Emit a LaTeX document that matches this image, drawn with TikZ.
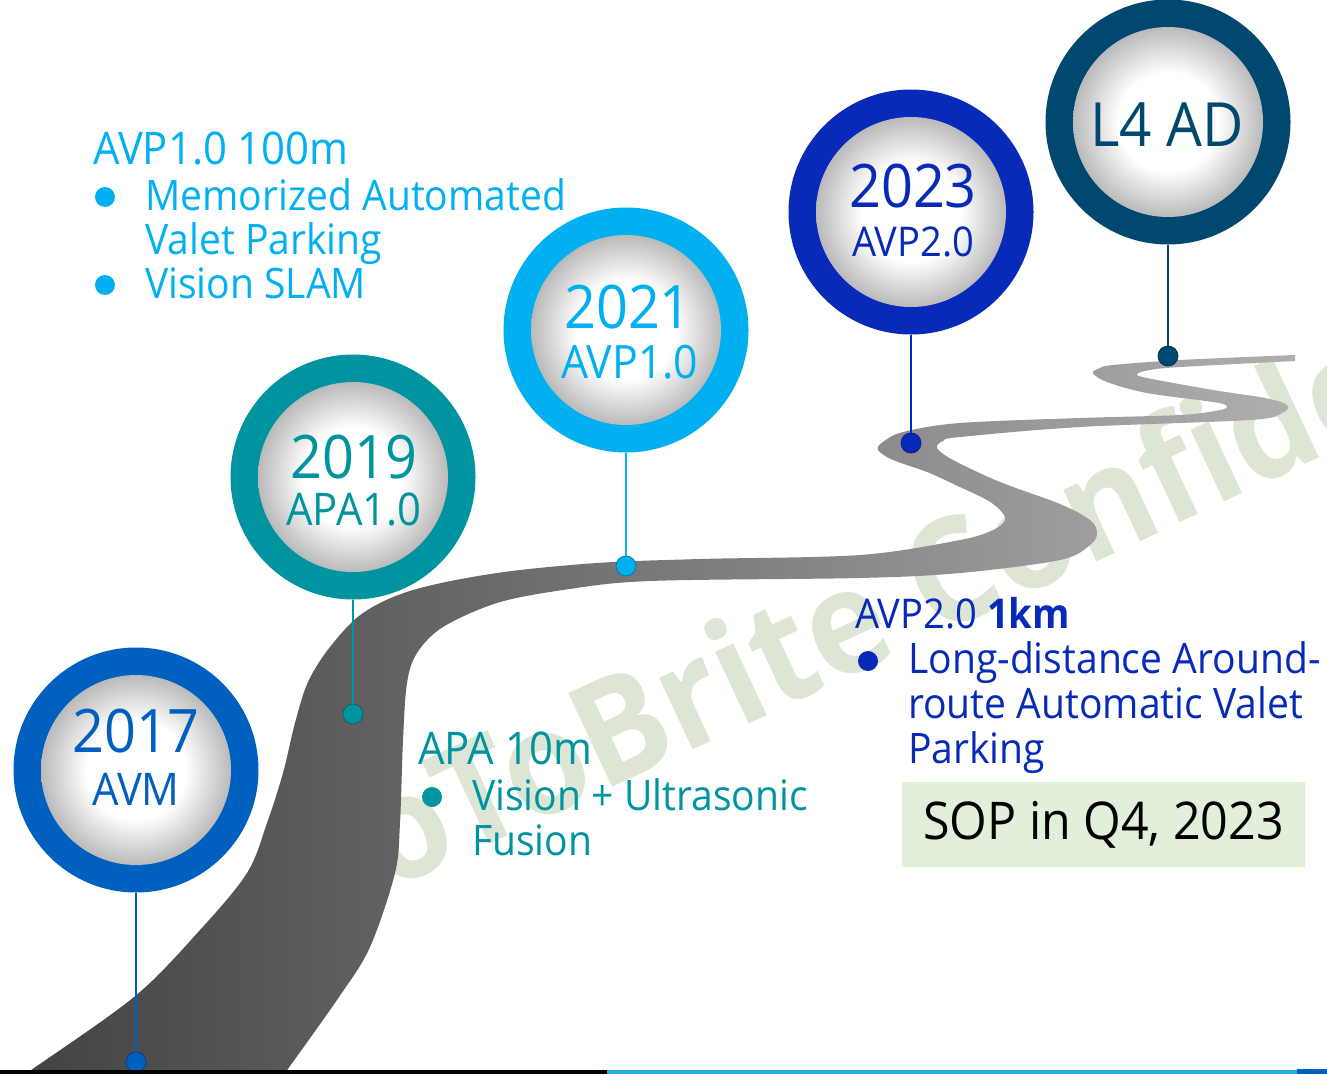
\documentclass[tikz,border=0pt]{standalone}
\usepackage{fontspec}
\setmainfont{Open Sans}[FakeStretch=0.93]
\definecolor{c17}{RGB}{0,96,192}
\definecolor{c19}{RGB}{0,148,160}
\definecolor{c21}{RGB}{0,176,240}
\definecolor{c23}{RGB}{8,42,184}
\definecolor{cL4}{RGB}{0,72,112}
\definecolor{roadL}{RGB}{66,64,64}
\definecolor{roadR}{RGB}{176,174,174}
\definecolor{boxgreen}{RGB}{226,239,218}
\definecolor{wmgreen}{RGB}{221,230,212}
\definecolor{footcyan}{RGB}{41,171,226}
\pgfdeclareradialshading{disc}{\pgfpoint{0bp}{0bp}}{color(0bp)=(white); color(13bp)=(white); color(25bp)=(black!27); color(50bp)=(black!27)}
\newcommand\pxfont[1]{\fontsize{#1}{#1}\selectfont}
\begin{document}
\begin{tikzpicture}[x=1pt, y=-1pt,
    ringnode/.style={circle, inner sep=0pt, minimum size=245pt, fill=#1},
    discnode/.style={circle, inner sep=0pt, minimum size=190pt, shade, shading=disc},
    pinnode/.style={circle, inner sep=0pt, minimum size=20pt, fill=#1, draw=#1!70!black, line width=0.8pt},
    stem/.style={line width=2.5pt, #1},
    yeartext/.style={anchor=base, inner sep=0pt, text=#1, font=\pxfont{60}},
    tagtext/.style={anchor=base, inner sep=0pt, text=#1, font=\pxfont{45}},
    headtext/.style={anchor=base west, inner sep=0pt, text=#1, font=\pxfont{45}},
    itemtext/.style={anchor=base west, inner sep=0pt, text=#1, font=\pxfont{42}},
    bulletdot/.style={circle, inner sep=0pt, minimum size=20pt, fill=#1}]
\useasboundingbox (0,0) rectangle (1327,1073);
\clip (0,0) rectangle (1327,1073);

% watermark
\node[anchor=base west, inner sep=0pt, rotate=25, text=wmgreen, font=\pxfont{145}\bfseries] (wm) at (388,892) {oToBrite Confidential};

% road
\shade[left color=roadL, right color=roadR]
  plot[smooth, tension=0.55] coordinates {(20,1080) (27,1073) (134,997) (200,930) (247,873) (267,823) (283,773) (295,723) (308,682) (330,647) (363,613) (413,590) (497,573) (597,563) (700,559) (860,555) (960,540) (993,530) (1005,520) (1000,510) (987,500) (960,487) (927,472) (893,460) (878,450) (883,442) (903,432) (960,423) (1080,418) (1180,415) (1220,410) (1227,406) (1213,402) (1147,393) (1107,382) (1093,373) (1100,368) (1113,365) (1180,360) (1295,355)}
  -- plot[smooth, tension=0.55] coordinates {(1295,361) (1180,367) (1150,370) (1137,374) (1147,378) (1213,390) (1265,398) (1287,405) (1282,413) (1250,420) (1080,427) (960,437) (943,441) (937,448) (953,460) (1000,482) (1060,504) (1090,520) (1097,533) (1090,545) (1060,560) (960,573) (860,578) (650,581) (563,590) (497,603) (443,627) (417,653) (407,683) (403,740) (400,823) (395,873) (370,947) (339,997) (285,1073) (280,1080)}
  -- cycle;

% milestones
\node[ringnode=c17] (r17) at (136,770) {};
\node[discnode] (d17) at (136,770) {};
\node[ringnode=c19] (r19) at (353,477) {};
\node[discnode] (d19) at (353,477) {};
\node[ringnode=c21] (r21) at (626,330) {};
\node[discnode] (d21) at (626,330) {};
\node[ringnode=c23] (r23) at (911,212) {};
\node[discnode] (d23) at (911,212) {};
\node[ringnode=cL4] (rL4) at (1168,122) {};
\node[discnode] (dL4) at (1168,122) {};

\node[pinnode=c17] (p17) at (136,1062) {};
\node[pinnode=c19] (p19) at (353,714) {};
\node[pinnode=c21] (p21) at (626,566) {};
\node[pinnode=c23] (p23) at (911,443) {};
\node[pinnode=cL4] (pL4) at (1168,356) {};

\draw[stem=c17] (r17) -- (p17);
\draw[stem=c19] (r19) -- (p19);
\draw[stem=c21] (r21) -- (p21);
\draw[stem=c23] (r23) -- (p23);
\draw[stem=cL4] (rL4) -- (pL4);

\node[yeartext=c17] (y17) at (136,752) {2017};
\node[tagtext=c17] (t17) at (136,805) {AVM};
\node[yeartext=c19] (y19) at (354,478) {2019};
\node[tagtext=c19] (t19) at (354,525) {APA1.0};
\node[yeartext=c21] (y21) at (628,328) {2021};
\node[tagtext=c21, font=\pxfont{46}] (t21) at (630,378) {AVP1.0};
\node[yeartext=c23] (y23) at (913,207) {2023};
\node[tagtext=c23, font=\pxfont{41}] (t23) at (913,256) {AVP2.0};
\node[yeartext=cL4, font=\pxfont{61}] (tL4) at (1167,146) {L4 AD};

% AVP1.0 notes
\node[headtext=c21] (h21) at (93,164) {AVP1.0 100m};
\node[bulletdot=c21] (b21a) at (105,197) {};
\node[itemtext=c21] (i21a) at (145,210) {Memorized Automated};
\node[itemtext=c21] (i21b) at (145,254) {Valet Parking};
\node[bulletdot=c21] (b21b) at (105,285) {};
\node[itemtext=c21] (i21c) at (145,298) {Vision SLAM};

% APA notes
\node[headtext=c19] (h19) at (418,764) {APA 10m};
\node[bulletdot=c19] (b19) at (432,797) {};
\node[itemtext=c19] (i19a) at (472,810) {Vision + Ultrasonic};
\node[itemtext=c19] (i19b) at (472,855) {Fusion};

% AVP2.0 notes
\node[headtext=c23, font=\pxfont{41}] (h23) at (855,628) {AVP2.0 \textbf{1km}};
\node[bulletdot=c23] (b23) at (868,661) {};
\node[itemtext=c23] (i23a) at (908,673) {Long-distance Around-};
\node[itemtext=c23] (i23b) at (908,718) {route Automatic Valet};
\node[itemtext=c23] (i23c) at (908,763) {Parking};
\node[fill=boxgreen, minimum width=403pt, minimum height=85pt, inner sep=0pt, font=\pxfont{52}] (sop) at (1103.5,824.5) {SOP in Q4, 2023};

% footer line
\fill[black] (0,1069.5) rectangle (607,1074);
\fill[footcyan] (607,1070) rectangle (1297,1074);
\fill[c17] (1297,1068.5) rectangle (1327,1074);
\end{tikzpicture}
\end{document}
